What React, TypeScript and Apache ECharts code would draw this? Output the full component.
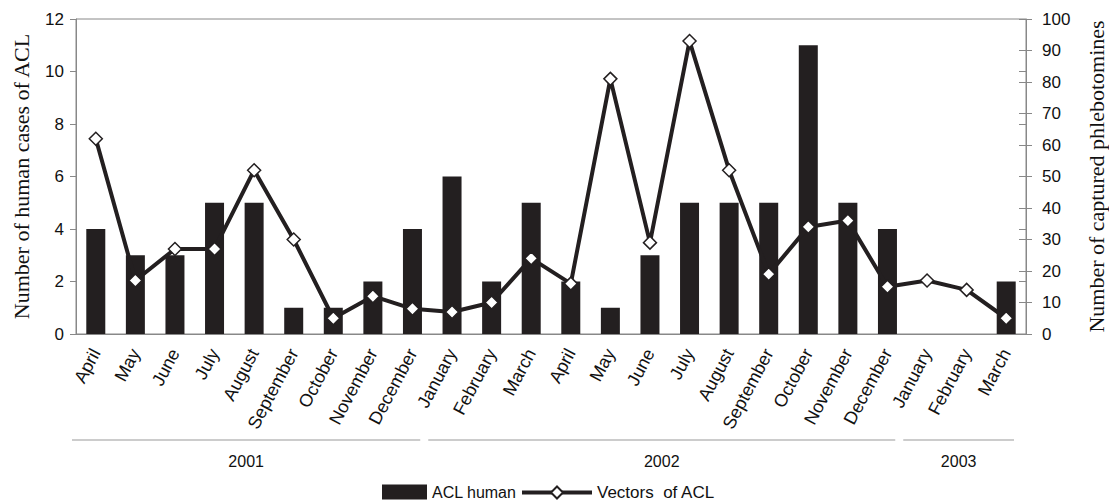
import React, { useEffect, useRef } from "react";
import * as echarts from "echarts";

const months = [
  "April", "May", "June", "July", "August", "September", "October", "November", "December",
  "January", "February", "March", "April", "May", "June", "July", "August", "September",
  "October", "November", "December", "January", "February", "March",
];
const humanCases = [4, 3, 3, 5, 5, 1, 1, 2, 4, 6, 2, 5, 2, 1, 3, 5, 5, 5, 11, 5, 4, 0, 0, 2];
const vectors = [62, 17, 27, 27, 52, 30, 5, 12, 8, 7, 10, 24, 16, 81, 29, 93, 52, 19, 34, 36, 15, 17, 14, 5];
const years = ["2001", "2002", "2003"];
const yearSpans = [[0, 8], [9, 20], [21, 23]];

const INK = "#231f20";
const SANS = "'Liberation Sans', Arial, sans-serif";
const SERIF = "'Liberation Serif', 'Times New Roman', serif";
const GRID = { left: 76, right: 83, top: 19, bottom: 169 };

export default function App() {
  const ref = useRef<HTMLDivElement>(null);
  useEffect(() => {
    if (!ref.current) return;
    const chart = echarts.init(ref.current, null, { renderer: "svg" });
    const W = 1109;
    const plotW = W - GRID.left - GRID.right;
    const cw = plotW / months.length;
    const graphics: any[] = [];
    yearSpans.forEach((s, i) => {
      const x1 = GRID.left + s[0] * cw - 4;
      const x2 = GRID.left + (s[1] + 1) * cw - 12;
      graphics.push({
        type: "line",
        shape: { x1, y1: 440, x2, y2: 440 },
        style: { stroke: "#999", lineWidth: 1 },
      });
      graphics.push({
        type: "text",
        x: (x1 + x2) / 2,
        y: 461,
        style: {
          text: years[i],
          fill: "#111",
          font: "16px " + SANS,
          align: "center",
          verticalAlign: "middle",
        },
      });
    });
    const valueLabel = { color: "#111", fontSize: 17, fontFamily: SANS };
    const legendText = { fontSize: 16, color: "#111", fontFamily: SANS };
    chart.setOption({
      animation: false,
      grid: {
        ...GRID,
        containLabel: false,
        outerBoundsMode: "none",
        show: true,
        borderColor: "#888",
        borderWidth: 1,
      },
      legend: [
        {
          left: 382,
          top: 484,
          padding: 0,
          itemWidth: 45,
          itemHeight: 15,
          itemGap: 6,
          textStyle: legendText,
          data: [{ name: "ACL human", icon: "rect" }],
        },
        {
          left: 520,
          top: 484,
          padding: 0,
          itemWidth: 70,
          itemHeight: 15,
          textStyle: { ...legendText, fontSize: 17 },
          data: [{ name: "Vectors  of ACL", lineStyle: { width: 4, color: INK } }],
        },
      ],
      xAxis: {
        type: "category",
        data: months,
        axisLine: { lineStyle: { color: "#888" } },
        axisTick: { show: false },
        axisLabel: {
          rotate: 62,
          interval: 0,
          margin: 16,
          color: "#111",
          fontSize: 18,
          fontFamily: SANS,
        },
      },
      yAxis: [
        {
          type: "value",
          min: 0,
          max: 12,
          interval: 2,
          name: "Number of human cases of ACL",
          nameLocation: "middle",
          nameGap: 44,
          nameTextStyle: { fontSize: 22, color: "#111", fontFamily: SERIF },
          axisLine: { show: true, lineStyle: { color: "#888" } },
          axisTick: { show: true, length: 6, lineStyle: { color: "#888" } },
          axisLabel: { ...valueLabel, margin: 12 },
          splitLine: { show: false },
        },
        {
          type: "value",
          position: "right",
          min: 0,
          max: 100,
          interval: 10,
          name: "Number of captured phlebotomines",
          nameLocation: "middle",
          nameGap: 59,
          nameRotate: 90,
          nameTextStyle: { fontSize: 22, color: "#111", fontFamily: SERIF },
          axisLine: { show: true, lineStyle: { color: "#888" } },
          axisTick: { show: true, length: 6, lineStyle: { color: "#888" } },
          axisLabel: { ...valueLabel, margin: 16 },
          splitLine: { show: false },
        },
        {
          type: "value",
          min: 0,
          max: 12,
          interval: 2,
          axisLine: { show: false },
          axisTick: { show: true, inside: true, length: 7, lineStyle: { color: "#888" } },
          axisLabel: { show: false },
          splitLine: { show: false },
        },
        {
          type: "value",
          position: "right",
          min: 0,
          max: 100,
          interval: 10,
          axisLine: { show: false },
          axisTick: { show: true, inside: true, length: 7, lineStyle: { color: "#888" } },
          axisLabel: { show: false },
          splitLine: { show: false },
        },
      ],
      series: [
        {
          name: "ACL human",
          type: "bar",
          data: humanCases,
          yAxisIndex: 0,
          barWidth: "48%",
          itemStyle: { color: INK },
        },
        {
          name: "Vectors  of ACL",
          type: "line",
          data: vectors,
          yAxisIndex: 1,
          symbol: "diamond",
          symbolSize: 13,
          lineStyle: { color: INK, width: 4 },
          itemStyle: { color: "#fff", borderColor: INK, borderWidth: 1.5 },
        },
      ],
      graphic: graphics,
    });
    return () => chart.dispose();
  }, []);
  return <div ref={ref} style={{ width: 1109, height: 503, position: "absolute", left: 0, top: 0 }} />;
}
